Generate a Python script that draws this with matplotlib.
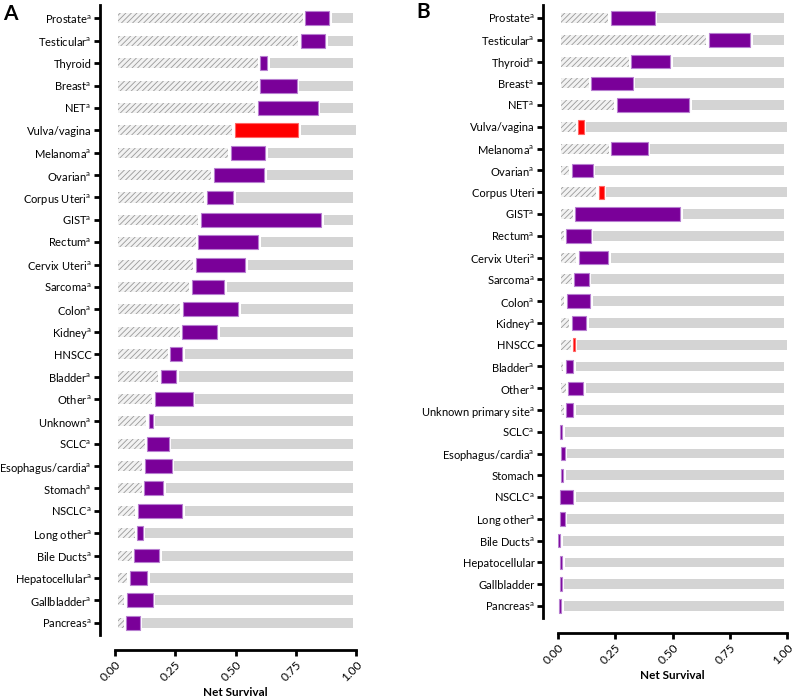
import matplotlib.pyplot as plt
import matplotlib as mpl

mpl.rcParams['font.family'] = ['Lato', 'DejaVu Sans']
mpl.rcParams['mathtext.fontset'] = 'custom'
mpl.rcParams['mathtext.rm'] = 'Lato'
mpl.rcParams['hatch.linewidth'] = 0.6

# Panel A: labels, superscript a flag, start and end of the coloured segment
a_labels = ['Prostate', 'Testicular', 'Thyroid', 'Breast', 'NET', 'Vulva/vagina',
            'Melanoma', 'Ovarian', 'Corpus Uteri', 'GIST', 'Rectum', 'Cervix Uteri',
            'Sarcoma', 'Colon', 'Kidney', 'HNSCC', 'Bladder', 'Other', 'Unknown',
            'SCLC', 'Esophagus/cardia', 'Stomach', 'NSCLC', 'Long other',
            'Bile Ducts', 'Hepatocellular', 'Gallbladder', 'Pancreas']
a_sup = [1, 1, 0, 1, 1, 0, 1, 1, 1, 1, 1, 1, 1, 1, 1, 0, 1, 1, 1, 1, 1, 1, 1, 1, 1, 1, 1, 1]
a_low = [0.790, 0.772, 0.603, 0.603, 0.592, 0.497, 0.480, 0.409, 0.380, 0.357,
         0.346, 0.335, 0.320, 0.282, 0.279, 0.230, 0.191, 0.166, 0.141, 0.134,
         0.124, 0.122, 0.095, 0.093, 0.080, 0.061, 0.048, 0.047]
a_high = [0.889, 0.871, 0.631, 0.754, 0.841, 0.761, 0.622, 0.620, 0.491, 0.856,
          0.595, 0.541, 0.454, 0.510, 0.423, 0.279, 0.254, 0.322, 0.156, 0.223,
          0.235, 0.201, 0.279, 0.115, 0.184, 0.133, 0.156, 0.102]
a_red = ['Vulva/vagina']

# Panel B
b_labels = ['Prostate', 'Testicular', 'Thyroid', 'Breast', 'NET', 'Vulva/vagina',
            'Melanoma', 'Ovarian', 'Corpus Uteri', 'GIST', 'Rectum', 'Cervix Uteri',
            'Sarcoma', 'Colon', 'Kidney', 'HNSCC', 'Bladder', 'Other',
            'Unknown primary site', 'SCLC', 'Esophagus/cardia', 'Stomach', 'NSCLC',
            'Long other', 'Bile Ducts', 'Hepatocellular', 'Gallbladder', 'Pancreas']
b_sup = [1, 1, 1, 1, 1, 0, 1, 1, 0, 1, 1, 1, 1, 1, 1, 0, 1, 1, 1, 1, 1, 0, 1, 1, 1, 0, 0, 1]
b_low = [0.231, 0.659, 0.320, 0.146, 0.257, 0.089, 0.233, 0.061, 0.179, 0.076,
         0.036, 0.091, 0.071, 0.039, 0.059, 0.066, 0.033, 0.044, 0.036, 0.009,
         0.011, 0.011, 0.009, 0.009, 0.001, 0.009, 0.009, 0.006]
b_high = [0.423, 0.840, 0.490, 0.327, 0.573, 0.113, 0.391, 0.151, 0.200, 0.534,
          0.143, 0.219, 0.134, 0.141, 0.124, 0.074, 0.066, 0.110, 0.066, 0.019,
          0.029, 0.023, 0.066, 0.030, 0.009, 0.019, 0.016, 0.014]
b_red = ['Vulva/vagina', 'Corpus Uteri', 'HNSCC']

PURPLE = '#7a0099'
RED = '#ff0000'
GREY = '#d4d4d4'
GAP = 0.011
FS = 8.0


def draw_panel(ax, labels, sup, low, high, red):
    n = len(labels)
    # spines first: set_position resets the ticks
    for s in ['top', 'right']:
        ax.spines[s].set_visible(False)
    ax.spines['left'].set_position(('outward', 11))
    ax.spines['bottom'].set_position(('outward', 11))
    ax.spines['left'].set_linewidth(2)
    ax.spines['bottom'].set_linewidth(2)
    ax.tick_params(axis='both', width=2, length=4, pad=2)

    for i in range(n):
        is_red = labels[i] in red
        col = RED if is_red else PURPLE
        edge = '#ff6666' if is_red else '#b77fd0'
        hw = low[i] - 2 * GAP
        if hw > 0:
            ax.barh(i, hw, left=GAP, height=0.45, color='#f2f2f2',
                    hatch='//////', edgecolor='#9a9a9a', linewidth=0)
        ax.barh(i, high[i] - low[i], left=low[i], height=0.62, color=col,
                edgecolor=edge, linewidth=0.8)
        end = 1.0 if is_red else 1.0 - GAP
        ax.barh(i, end - high[i] - GAP, left=high[i] + GAP, height=0.45,
                color=GREY, linewidth=0)

    ticklabels = [l + r'$^{\mathrm{a}}$' if s else l for l, s in zip(labels, sup)]
    ax.set_yticks(range(n))
    ax.set_yticklabels(ticklabels, fontsize=FS)
    ax.set_ylim(n - 0.45, -0.6)
    ax.set_xlim(0, 1)
    ax.set_xticks([0, 0.25, 0.5, 0.75, 1.0])
    ax.set_xticklabels(['0.00', '0.25', '0.50', '0.75', '1.00'], fontsize=8.6,
                       rotation=45, ha='right', va='top', rotation_mode='anchor')
    ax.set_xlabel('Net Survival', fontsize=8.5, fontweight='bold', labelpad=3)


fig = plt.figure(figsize=(7.95, 7.0), dpi=100)
W, H = 795, 700
axA = fig.add_axes([115 / W, 1 - 635 / H, 241 / W, 630 / H])
axB = fig.add_axes([558 / W, 1 - 618 / H, 229 / W, 613 / H])

draw_panel(axA, a_labels, a_sup, a_low, a_high, a_red)
draw_panel(axB, b_labels, b_sup, b_low, b_high, b_red)

fig.text(3 / W, 1 - 20 / H, 'A', fontsize=15, fontweight='bold')
fig.text(416 / W, 1 - 18 / H, 'B', fontsize=15, fontweight='bold')

fig.savefig('out.png', dpi=100)
